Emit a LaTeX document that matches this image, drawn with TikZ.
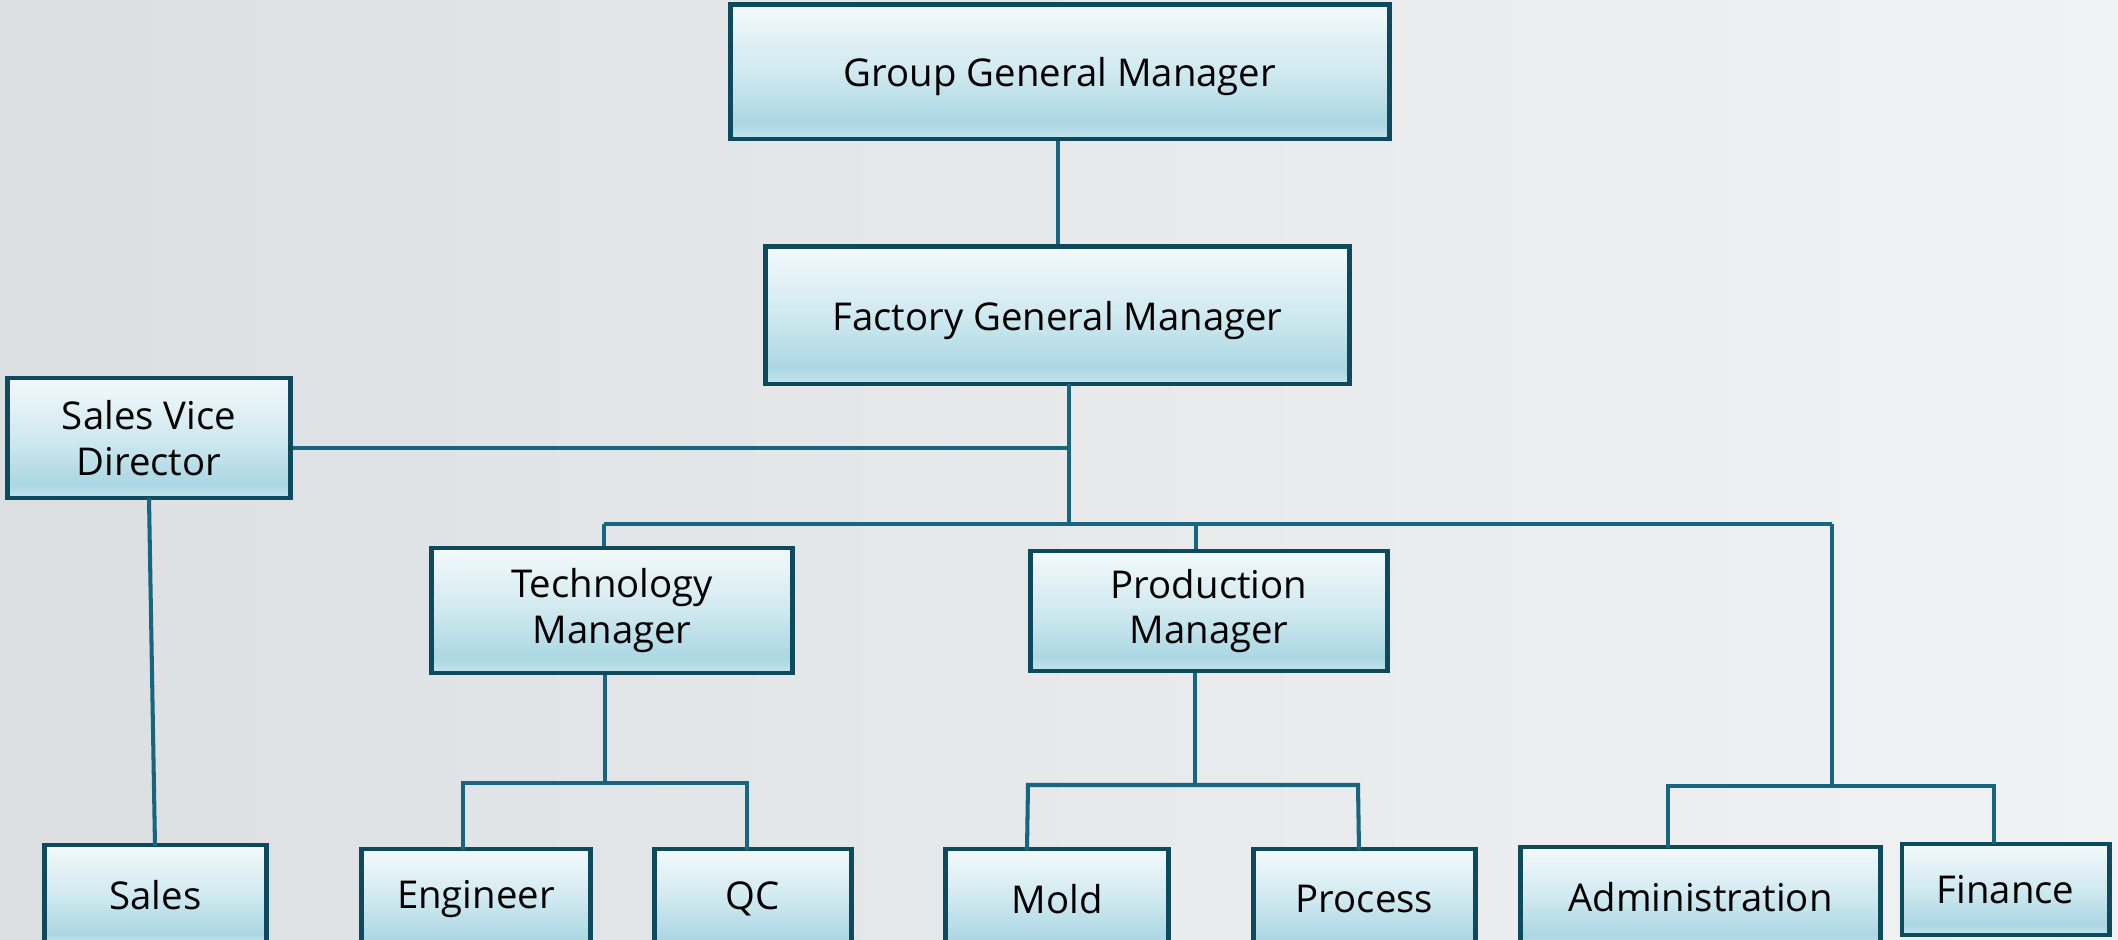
\documentclass[tikz,border=0pt]{standalone}
\usepackage{fontspec}
\setmainfont{Open Sans}
\definecolor{bgL}{HTML}{DCDFE2}
\definecolor{bgR}{HTML}{F1F2F3}
\definecolor{btop}{HTML}{F3F9FB}
\definecolor{bmid}{HTML}{D0E9F0}
\definecolor{bdeep}{HTML}{ABD7E3}
\definecolor{bbot}{HTML}{C3E4EC}
\definecolor{bord}{HTML}{0E4A5D}
\definecolor{wire}{HTML}{15667E}
\pgfdeclareverticalshading{orgbox}{100bp}{color(0bp)=(bbot); color(25bp)=(bbot); color(31bp)=(bdeep); color(50bp)=(bmid); color(75bp)=(btop); color(100bp)=(btop)}
\tikzset{
  orgnode/.style={draw=bord, line width=1.4pt, shading=orgbox, align=center,
    inner sep=0pt, font=\fontsize{10.9}{12.9}\selectfont, text=black},
  lowtext/.style={text depth=0pt},
  wireline/.style={draw=wire, line width=1.15pt}
}
\begin{document}
\begin{tikzpicture}[x=0.01cm,y=-0.01cm]
\useasboundingbox (0,0) rectangle (2118,940);
\begin{scope}
\clip (0,0) rectangle (2118,940);
\shade[left color=bgL, right color=bgR] (0,0) rectangle (2118,940);

% nodes
\node[orgnode, lowtext, minimum width=6.58cm, minimum height=1.34cm] (ggm) at (1060,72) {Group General Manager};
\node[orgnode, lowtext, minimum width=5.83cm, minimum height=1.37cm] (fgm) at (1057.5,315.5) {Factory General Manager};
\node[orgnode, minimum width=2.82cm, minimum height=1.20cm] (svd) at (149,438) {Sales Vice\\Director};
\node[orgnode, minimum width=3.60cm, minimum height=1.25cm] (tech) at (612,610.5) {Technology\\Manager};
\node[orgnode, minimum width=3.56cm, minimum height=1.20cm] (prod) at (1209,611) {Production\\Manager};
\node[orgnode, minimum width=2.21cm, minimum height=1.00cm] (sales) at (155.5,895) {Sales};
\node[orgnode, minimum width=2.28cm, minimum height=1.00cm] (eng) at (476,899) {Engineer};
\node[orgnode, minimum width=1.96cm, minimum height=1.00cm] (qc) at (753,899) {QC};
\node[orgnode, minimum width=2.22cm, minimum height=1.00cm] (mold) at (1057,899) {Mold};
\node[orgnode, minimum width=2.21cm, minimum height=1.00cm] (proc) at (1364.5,899) {Process};
\node[orgnode, minimum width=3.59cm, minimum height=1.00cm] (admin) at (1700.5,897) {Administration};
\node[orgnode, minimum width=2.07cm, minimum height=0.91cm] (fin) at (2005.5,889.5) {Finance};

% joints
\coordinate (fgmout) at (1069,384);
\coordinate (busmid) at (1069,524);
\coordinate (svdj) at (1069,448);
\coordinate (busL) at (604,524);
\coordinate (busR) at (1832,524);
\coordinate (techB) at (605,783);
\coordinate (prodB) at (1195,785);
\coordinate (adminB) at (1832,786);
\coordinate (svdout) at (149,498);
\coordinate (salesin) at (155,846);

% connectors
\draw[wireline] (ggm.south -| 1058,0) -- (fgm.north -| 1058,0);
\draw[wireline] (fgmout) -- (busmid);
\draw[wireline] (svd.east |- svdj) -- (svdj);
\draw[wireline] (busL) -- (busR);
\draw[wireline] (busL) -- (busL |- tech.north);
\draw[wireline] (busmid -| 1196,0) -- (prod.north -| 1196,0);
\draw[wireline] (busR) -- (adminB);
\draw[wireline] (svdout) -- (salesin);

\draw[wireline] (tech.south -| techB) -- (techB);
\draw[wireline] (463,850) -- (463,783) -- (747,783) -- (747,850);

\draw[wireline] (prod.south -| prodB) -- (prodB);
\draw[wireline] (1027,850) -- (1028,785) -- (1358,785) -- (1359,850);

\draw[wireline] (1668,848) -- (1668,786) -- (1994,786) -- (1994,844);
\end{scope}
\end{tikzpicture}
\end{document}
